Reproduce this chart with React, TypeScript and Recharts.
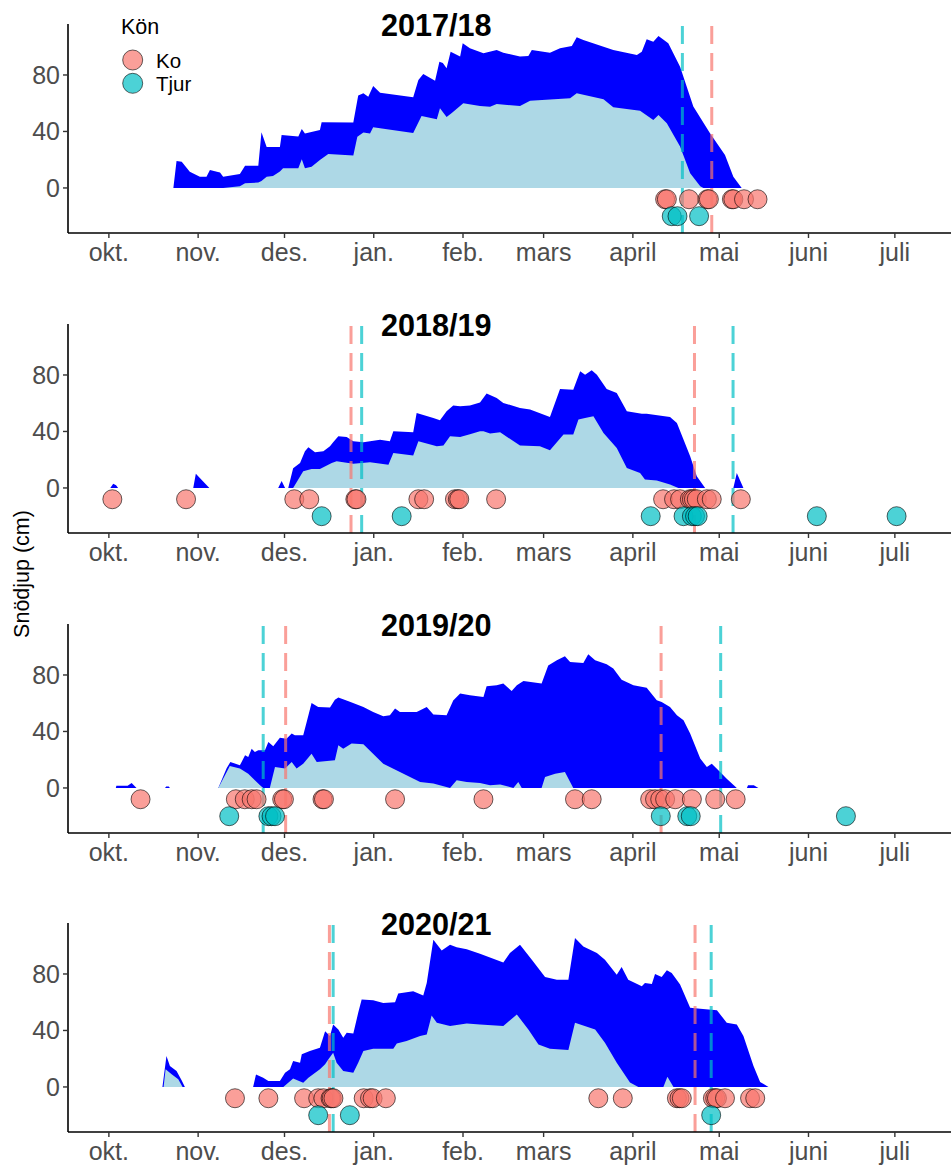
import React from 'react';
import { ComposedChart, Area, Scatter, XAxis, YAxis, ReferenceLine } from 'recharts';

// Day index counted from 1 October of each season (0 = 1 Oct)
type Pt = [number, number];

const monthTicks = [0, 31, 61, 92, 123, 151, 182, 212, 243, 273];
const monthLabels = ['okt.', 'nov.', 'des.', 'jan.', 'feb.', 'mars', 'april', 'mai', 'juni', 'juli'];
const yTicks = [0, 40, 80];
const seasonTitles = ['2017/18', '2018/19', '2019/20', '2020/21'];
const legendLabels = ['Ko', 'Tjur'];

const KO_Y = -8;
const TJUR_Y = -20;

// ---------- 2017/18 ----------
const max1718: Pt[] = [
  [22.4, 0], [23.5, 19], [25.3, 18.6], [28.1, 11.5], [31.6, 8], [33.9, 8], [35.1, 12.7], [38.6, 11], [39.7, 8],
  [45.5, 9.9], [47.3, 15.8], [51.9, 15.8], [53.0, 39.4], [54.8, 29], [59.4, 29], [60.0, 37.5], [65.8, 36.5],
  [67.0, 41.8], [68.1, 38.5], [73.3, 41], [73.9, 46.5], [84.9, 46.3], [86.6, 65.4], [88.4, 67], [90.1, 64.5],
  [91.8, 72.2], [94.2, 67.5], [105.7, 64.2], [107.5, 76.5], [109.2, 80.7], [113.3, 76], [114.8, 89.4], [116, 88.5],
  [117.3, 84.7], [118.7, 96.5], [122.0, 93], [122.9, 102.4], [125.4, 99], [130.1, 95.3], [134.7, 97.7], [137, 95.8],
  [142.8, 93], [145.7, 93.5], [146.9, 97.7], [153.2, 95.8], [156.7, 98.9], [160.8, 100.5], [162.5, 106.7],
  [164.8, 104.8], [175.2, 97.7], [183.4, 94.2], [185.1, 96.5], [186.8, 105.3], [189.1, 103.6], [190.9, 107.6],
  [194.3, 102.4], [198.4, 85.9], [203, 57.6], [208.8, 38.7], [214, 23.4], [216.9, 8], [219.8, 0],
];
const min1718: Pt[] = [
  [39.7, 0], [45.5, 1.2], [47.3, 3.3], [51.9, 3.8], [53.0, 5], [54.8, 8], [57, 8.5], [59.4, 11.6], [60.5, 13.9],
  [65.8, 13.9], [67.0, 20.3], [68.1, 13.9], [70.4, 15], [73.3, 19.8], [76.2, 24], [84.9, 22.9], [86.3, 36.3],
  [88.4, 39.2], [90.7, 38.5], [91.8, 43], [94.2, 42.3], [105.7, 38.9], [108.6, 51], [113.9, 48.6], [115, 56.4],
  [117.3, 50.2], [119.1, 53], [123.1, 60], [128.9, 58], [132.4, 57.5], [134.7, 59.5], [142.8, 58], [146.3, 61.8],
  [160.2, 63.5], [162.5, 67], [171.8, 62.8], [175.2, 57.1], [184.5, 54.7], [189.1, 48.1], [190.9, 51.7],
  [193.8, 45.8], [198.4, 29.3], [201.9, 10.4], [205.4, 1.2], [206.5, 0], [219.8, 0],
];
const ko1718 = [193.2, 193.8, 201.5, 207.9, 208.4, 216.4, 216.9, 220.6, 225.3];
const tjur1718 = [195.5, 197.5, 205];
const koLines1718 = [209.4];
const tjurLines1718 = [199.2];

// ---------- 2018/19 ----------
const max1819: Pt[] = [
  [0.5, 0], [1.5, 3], [2.5, 2], [3.2, 0], [29.3, 0], [30.2, 10], [34.9, 0], [58.8, 0], [60, 5], [61.2, 0],
  [62.3, 0], [64, 14], [66.4, 17.7], [68.1, 26], [69.3, 28.8], [71.6, 25.3], [74.5, 26], [76.8, 29.5], [77.9, 32.3],
  [79.7, 36.6], [82.6, 36.1], [84.9, 33], [88.4, 32.3], [90.7, 33], [94.2, 34.2], [97.6, 33], [98.8, 40.1],
  [105.7, 39.4], [106.9, 53.1], [112.7, 49.6], [115, 47.9], [117.3, 54.3], [119.6, 58.3], [122, 57.8],
  [125.4, 58.3], [128.9, 60.6], [131.2, 66.8], [134.7, 63.7], [137, 60.2], [142.8, 56.6], [146.3, 55.5],
  [153.2, 50.3], [156.7, 70.1], [161.3, 69.6], [163.7, 82.6], [165.4, 80.2], [167.7, 83.3], [169.5, 80.2],
  [172.9, 70.1], [176.4, 67.3], [179.9, 54.3], [185.1, 52.6], [186.8, 52.6], [194.9, 50.3], [197.3, 46],
  [201.9, 22.4], [204.2, 8.3], [207.1, 0], [216.9, 0], [218.1, 10.6], [220.4, 0],
];
const min1819: Pt[] = [
  [62.3, 0], [64, 0], [67.5, 11.8], [70.4, 13.5], [73.3, 13.5], [77.4, 17.7], [79.1, 18.9], [84.9, 17.2],
  [90.7, 18.2], [97.1, 16.5], [98.8, 24.8], [105.7, 22.9], [107.5, 33], [113.9, 29.5], [116.2, 30], [118.5, 36.6],
  [122, 36.1], [125.4, 38], [128.9, 40.1], [130.1, 40.1], [132.4, 38.5], [135.9, 39.4], [142.8, 30], [149.7, 29.5],
  [153.2, 26.7], [157.9, 37.8], [161.3, 37.8], [163.1, 48.4], [165.4, 49.6], [168.3, 50.7], [171.8, 38.9],
  [176.4, 28.3], [179.9, 14.2], [184.5, 10.6], [186.2, 5.9], [190.3, 5.2], [194.9, 2.4], [197.8, 0], [207.1, 0],
];
const ko1819 = [1.2, 26.8, 64.4, 69.6, 85.6, 86.0, 107.5, 109.5, 120.2, 121.2, 121.7, 134.5,
  192.5, 196.3, 198.4, 201.8, 202.5, 203.2, 204.2, 207.7, 209.4, 219.5];
const tjur1819 = [73.9, 101.7, 188.2, 199.6, 202.5, 203.6, 204.5, 245.9, 273.6];
const koLines1819 = [84.1, 203.4];
const tjurLines1819 = [87.8, 216.8];

// ---------- 2019/20 ----------
const max1920: Pt[] = [
  [2.4, 0], [2.6, 1.5], [6.5, 1.5], [7.9, 3.5], [9.6, 0], [19.5, 0], [19.9, 1], [20.8, 1], [21.2, 0], [38, 0],
  [40.9, 14], [42.2, 18.4], [45.5, 16], [47.3, 23.1], [48.4, 21.9], [49.6, 27.8], [50.7, 25.5], [51.9, 26.7],
  [54.2, 26.7], [55.4, 32.6], [57.1, 29.5], [59.4, 35.6], [61.7, 34.9], [63.5, 38.5], [64.6, 37.3], [67.5, 37.3],
  [68.7, 46.7], [70.4, 60.2], [72.7, 57.3], [76.8, 56.9], [78.5, 62.5], [79.7, 64], [83.7, 61.1], [88.4, 57.3],
  [91.8, 53.8], [95.3, 50.7], [97.6, 51.4], [99.4, 56.2], [101.1, 53.8], [106.9, 53.8], [110.4, 57.3],
  [112.7, 52.1], [117.3, 51.4], [119.6, 62], [122, 66.8], [125.4, 65.6], [130.1, 64.4], [131.2, 72], [134.7, 72.7],
  [137, 73.9], [139.9, 68.7], [141.7, 72.7], [144, 75.8], [150.3, 73.9], [152.6, 86.8], [155.6, 90.4],
  [158.4, 93.2], [160.2, 89.2], [164.8, 88.5], [166.5, 94.6], [168.9, 90.4], [172.9, 87.6], [175.2, 84.5],
  [178.1, 76.7], [182.2, 72.7], [186.8, 71], [190.3, 62.1], [192, 60.9], [194.9, 57.3], [197.3, 51.4],
  [199.6, 47.9], [201.9, 38.5], [205.4, 20.8], [207.7, 14.9], [209.4, 17.2], [211.7, 12.5], [214.6, 6.6],
  [218.1, 0], [221.6, 0], [222, 2], [224, 2], [225.6, 0],
];
const min1920: Pt[] = [
  [38, 0], [42, 15.5], [45.5, 13.7], [48.4, 10], [50.7, 5.4], [52.5, 1.9], [53.6, 0], [55.9, 0], [57.7, 14.9],
  [61.2, 13.7], [63.5, 18.4], [65.2, 13.7], [67.5, 17.2], [70.4, 24.3], [72.2, 18.4], [78.5, 19.6], [79.7, 30.2],
  [81.4, 27.8], [84.3, 31.4], [88.4, 30.9], [95.3, 17.2], [101.1, 11.3], [108.1, 4.2], [112.7, 3.1], [118.5, 0],
  [120.8, 5.4], [124.3, 4.2], [128.9, 3.5], [132.4, 1.9], [135.9, 2.4], [140.5, 0], [142.2, 4.2], [143.4, 0],
  [150.3, 0], [151.5, 7.8], [155, 10.1], [158.4, 11.3], [161.3, 0], [218.1, 0],
];
const ko1920 = [11, 44.1, 47.2, 49.6, 51.3, 60.2, 60.8, 74.2, 74.7, 99.4, 130.1, 161.9, 167.7,
  188, 189.7, 191.5, 193.2, 196.7, 202.5, 210.6, 217.7];
const tjur1920 = [41.8, 55.4, 56.5, 57.7, 191.7, 200.9, 202.1, 256];
const koLines1920 = [61.4, 191.8];
const tjurLines1920 = [53.6, 212.5];

// ---------- 2020/21 ----------
const max2021: Pt[] = [
  [18.6, 0], [20, 21.9], [21.2, 14.8], [23.5, 11.3], [25.3, 4.5], [26.4, 0], [50.1, 0], [51.1, 8.9], [53.6, 6.6],
  [55.4, 4.2], [59.4, 4.2], [61.2, 10.1], [62.9, 12.5], [64, 18.4], [66.4, 17.2], [67, 23.1], [69.8, 25.4],
  [73.3, 27.8], [75.1, 39.5], [76.8, 36.1], [77.9, 44.2], [79.7, 40.7], [81.4, 34.8], [82.6, 38.4], [84.9, 37.9],
  [86.6, 52.5], [87.8, 61.9], [91.8, 61.4], [95.3, 59.5], [99.4, 60], [100.5, 66.1], [105.7, 67.8], [109.2, 64.7],
  [110.4, 73.6], [112.7, 104.2], [115.6, 96.7], [118.5, 100.7], [120.8, 99], [124.3, 97.6], [128.9, 94.4],
  [137, 88.2], [139.3, 94.8], [142.8, 100.7], [146.9, 90.1], [151.5, 77.9], [155.6, 76], [159.6, 76],
  [161.9, 105.4], [164.8, 99.5], [169.5, 94.8], [172.3, 90.1], [176.4, 79.5], [178.1, 84.9], [180.4, 76],
  [185.1, 71.3], [186.2, 73.6], [188.6, 72.9], [189.7, 80], [192, 77.9], [193.8, 82.6], [195.5, 80.7],
  [198.4, 72.5], [201.9, 56], [205.4, 55.3], [211.2, 54.4], [214.6, 45.4], [218.1, 44.2], [220.4, 36],
  [223.9, 14.8], [226.2, 3.5], [229.1, 0],
];
const min2021: Pt[] = [
  [19, 0], [19.7, 12.5], [21.8, 9], [24.1, 5.4], [25.6, 0], [60.6, 0], [64, 5.9], [67.5, 3], [69.3, 6.6],
  [73.3, 12.5], [75.1, 16], [76.2, 19.5], [77.9, 24.2], [79.1, 17.2], [81.4, 11.3], [84.9, 10.1], [86.6, 17.2],
  [88.4, 25.4], [91.8, 27], [98.8, 27], [100, 30.8], [103.4, 32.5], [108.1, 36], [110.4, 37.2], [112.1, 50.6],
  [113.9, 45.4], [118.5, 43.1], [124.3, 44.9], [128.9, 44.2], [137, 43.1], [141.7, 51.3], [145.7, 40.7],
  [149.2, 30.1], [153.2, 27], [159.6, 26.1], [161.9, 45.4], [168.9, 40.7], [172.3, 31.3], [176.4, 17.2],
  [181, 3.1], [183.9, 0], [192.6, 0], [194, 7.3], [196.1, 0], [229.1, 0],
];
const ko2021 = [43.8, 55.4, 67.8, 72.7, 74.5, 77.0, 77.4, 78.0, 88.5, 90.7, 91.6, 96.2,
  170, 178.5, 197.3, 198.2, 199, 209.8, 210.6, 211.2, 214, 222.7, 224.5];
const tjur2021 = [72.7, 83.7, 209.2];
const koLines2021 = [76.6, 203.6];
const tjurLines2021 = [77.9, 209.2];

const seasons = [
  { max: max1718, min: min1718, ko: ko1718, tjur: tjur1718, koL: koLines1718, tjurL: tjurLines1718 },
  { max: max1819, min: min1819, ko: ko1819, tjur: tjur1819, koL: koLines1819, tjurL: tjurLines1819 },
  { max: max1920, min: min1920, ko: ko1920, tjur: tjur1920, koL: koLines1920, tjurL: tjurLines1920 },
  { max: max2021, min: min2021, ko: ko2021, tjur: tjur2021, koL: koLines2021, tjurL: tjurLines2021 },
];

const KO_COLOR = '#F8766D';
const TJUR_COLOR = '#00BFC4';
const FONT = '"Liberation Sans", Arial, Helvetica, sans-serif';
const panelTops = [0, 300, 600, 899];

const toRows = (pts: Pt[]) => pts.map(([d, v]) => ({ d, v }));
const toPoints = (days: number[], y: number) => days.map((d) => ({ d, y }));

const makeDot = (color: string) => (props: any) => (
  <circle cx={props.cx} cy={props.cy} r={9.5} fill={color} fillOpacity={0.7} stroke="#000" strokeOpacity={0.6} strokeWidth={1} />
);

function Panel({ s }: { s: typeof seasons[number] }) {
  return (
    <ComposedChart width={951} height={300} margin={{ top: 24, right: 0, bottom: 0, left: 0 }}>
      <XAxis
        dataKey="d"
        type="number"
        domain={[-14.2, 292.5]}
        allowDataOverflow
        ticks={monthTicks}
        interval={0}
        tickFormatter={(v: number) => monthLabels[monthTicks.indexOf(v)] ?? ''}
        height={67}
        tickSize={5}
        tickMargin={5}
        axisLine={{ stroke: '#000', strokeWidth: 1.6 }}
        tickLine={{ stroke: '#333', strokeWidth: 1.4 }}
        tick={{ fill: '#4D4D4D', fontSize: 25, fontFamily: FONT }}
      />
      <YAxis
        type="number"
        domain={[-31.9, 116.1]}
        allowDataOverflow
        ticks={yTicks}
        interval={0}
        width={68}
        tickSize={5}
        tickMargin={3}
        axisLine={{ stroke: '#000', strokeWidth: 1.6 }}
        tickLine={{ stroke: '#333', strokeWidth: 1.4 }}
        tick={{ fill: '#4D4D4D', fontSize: 25, fontFamily: FONT }}
      />
      <Area data={toRows(s.max)} dataKey="v" type="linear" stroke="none" fill="#0000FF" fillOpacity={1}
        dot={false} activeDot={false} isAnimationActive={false} />
      <Area data={toRows(s.min)} dataKey="v" type="linear" stroke="none" fill="#ADD8E6" fillOpacity={1}
        dot={false} activeDot={false} isAnimationActive={false} />
      {s.koL.map((d, i) => (
        <ReferenceLine key={'k' + i} x={d} stroke={KO_COLOR} strokeOpacity={0.7} strokeWidth={3} strokeDasharray="18 9" />
      ))}
      {s.tjurL.map((d, i) => (
        <ReferenceLine key={'t' + i} x={d} stroke={TJUR_COLOR} strokeOpacity={0.7} strokeWidth={3} strokeDasharray="18 9" />
      ))}
      <Scatter data={toPoints(s.ko, KO_Y)} dataKey="y" shape={makeDot(KO_COLOR)} isAnimationActive={false} />
      <Scatter data={toPoints(s.tjur, TJUR_Y)} dataKey="y" shape={makeDot(TJUR_COLOR)} isAnimationActive={false} />
    </ComposedChart>
  );
}

export default function App() {
  return (
    <div style={{ position: 'absolute', left: 0, top: 0, width: 951, height: 1165, background: '#fff', fontFamily: FONT }}>
      {seasons.map((s, i) => (
        <div key={i} style={{ position: 'absolute', left: 0, top: panelTops[i] }}>
          <Panel s={s} />
        </div>
      ))}
      <svg width={951} height={1165} style={{ position: 'absolute', left: 0, top: 0, pointerEvents: 'none' }}>
        {seasonTitles.map((t, i) => (
          <text key={t} x={436.3} y={panelTops[i] + 36} textAnchor="middle" fontFamily={FONT} fontWeight="bold" fontSize={30.6} fill="#000">{t}</text>
        ))}
        <text x={121} y={34} fontFamily={FONT} fontSize={21.5} fill="#000">Kön</text>
        <circle cx={132.7} cy={60} r={10} fill={KO_COLOR} fillOpacity={0.7} stroke="#000" strokeOpacity={0.6} />
        <circle cx={132.7} cy={83.3} r={10} fill={TJUR_COLOR} fillOpacity={0.7} stroke="#000" strokeOpacity={0.6} />
        <text x={156} y={67.8} fontFamily={FONT} fontSize={20.5} fill="#000">{legendLabels[0]}</text>
        <text x={156} y={91} fontFamily={FONT} fontSize={20.5} fill="#000">{legendLabels[1]}</text>
        <text transform="translate(28.5,574) rotate(-90)" textAnchor="middle" fontFamily={FONT} fontSize={21.5} fill="#000">Snödjup (cm)</text>
      </svg>
    </div>
  );
}
